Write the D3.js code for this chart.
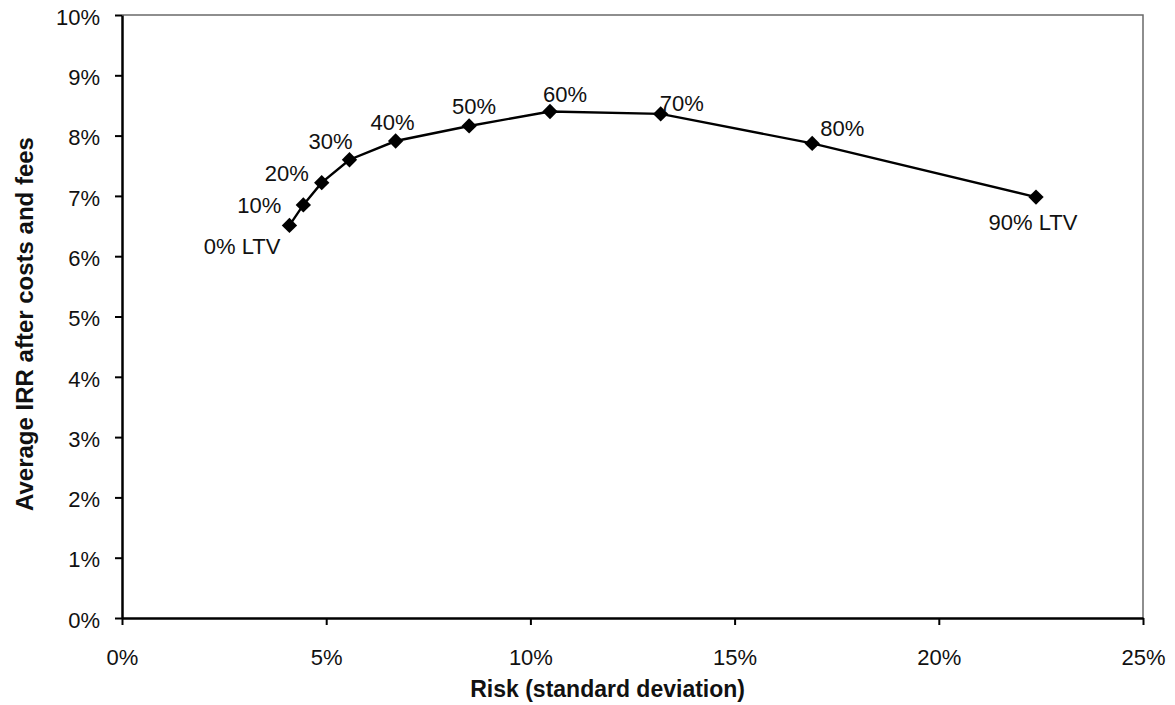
<!DOCTYPE html>
<html>
<head>
<meta charset="utf-8">
<script src="https://cdn.jsdelivr.net/npm/d3@7"></script>
<style>
  html, body { margin: 0; padding: 0; background: #fff; }
  svg { display: block; font-family: "Liberation Sans", Arial, Helvetica, sans-serif; }
</style>
</head>
<body>
<svg id="chart" width="1175" height="705"></svg>
<script>
// Risk/return trade-off by loan-to-value ratio
const ltvLabels = ["0% LTV", "10%", "20%", "30%", "40%", "50%", "60%", "70%", "80%", "90% LTV"];
const riskValues = [4.10, 4.44, 4.89, 5.57, 6.70, 8.50, 10.48, 13.19, 16.90, 22.38];
const irrValues  = [6.51, 6.85, 7.22, 7.60, 7.91, 8.16, 8.40, 8.36, 7.87, 6.98];

const xTicks = [0, 5, 10, 15, 20, 25];
const yTicks = [0, 1, 2, 3, 4, 5, 6, 7, 8, 9, 10];

// label placement relative to each marker (anchor, dx, dy in px)
const labelLayout = {
  "0% LTV":  ["end", -9, 29],
  "10%":     ["end", -22, 8],
  "20%":     ["end", -13, -2],
  "30%":     ["end", 3, -11],
  "40%":     ["middle", -3, -11],
  "50%":     ["middle", 5, -12],
  "60%":     ["start", -7, -9],
  "70%":     ["start", -1, -3],
  "80%":     ["start", 8, -7],
  "90% LTV": ["middle", -3, 33]
};

const points = ltvLabels.map((label, i) => ({ label, risk: riskValues[i], irr: irrValues[i] }));

const svg = d3.select("#chart");
const frame = { left: 122, right: 1143, top: 15, bottom: 618 };

const x = d3.scaleLinear().domain([0, 25]).range([frame.left, frame.right]);
const y = d3.scaleLinear().domain([0, 10]).range([frame.bottom, frame.top]);

// plot frame: thin grey top/right border
svg.append("path")
  .attr("d", `M${x(0)},${y(10)} H${x(25)} V${y(0)}`)
  .attr("fill", "none")
  .attr("stroke", "#6a6a6a")
  .attr("stroke-width", 1.5);

// x axis
const xAxis = svg.append("g")
  .attr("transform", `translate(0,${y(0)})`)
  .call(d3.axisBottom(x).tickValues(xTicks).tickFormat(d => d + "%")
    .tickSize(7).tickPadding(24).tickSizeOuter(0));
xAxis.select(".domain").attr("stroke", "#000").attr("stroke-width", 2.5);
xAxis.selectAll(".tick line").attr("stroke", "#000").attr("stroke-width", 2);
xAxis.selectAll(".tick text")
  .attr("font-size", 22).attr("fill", "#111")
  .attr("font-family", "Liberation Sans, Arial, sans-serif");

// y axis
const yAxis = svg.append("g")
  .attr("transform", `translate(${x(0)},0)`)
  .call(d3.axisLeft(y).tickValues(yTicks).tickFormat(d => d + "%")
    .tickSize(7).tickPadding(15).tickSizeOuter(0));
yAxis.select(".domain").attr("stroke", "#000").attr("stroke-width", 2.5);
yAxis.selectAll(".tick line").attr("stroke", "#000").attr("stroke-width", 2);
yAxis.selectAll(".tick text")
  .attr("font-size", 22).attr("fill", "#111").attr("dy", "0.42em")
  .attr("font-family", "Liberation Sans, Arial, sans-serif");

// connecting line
const line = d3.line().x(d => x(d.risk)).y(d => y(d.irr));
svg.append("path")
  .datum(points)
  .attr("d", line)
  .attr("fill", "none")
  .attr("stroke", "#000")
  .attr("stroke-width", 2.4);

// diamond markers
const diamond = d3.symbol().type(d3.symbolDiamond2).size(150);
svg.append("g").selectAll("path")
  .data(points)
  .join("path")
  .attr("d", diamond)
  .attr("transform", d => `translate(${x(d.risk)},${y(d.irr)})`)
  .attr("fill", "#000");

// point labels
svg.append("g").selectAll("text")
  .data(points)
  .join("text")
  .attr("x", d => x(d.risk) + labelLayout[d.label][1])
  .attr("y", d => y(d.irr) + labelLayout[d.label][2])
  .attr("text-anchor", d => labelLayout[d.label][0])
  .attr("font-size", 22)
  .attr("fill", "#111")
  .text(d => d.label);

// axis titles
svg.append("text")
  .attr("x", 745)
  .attr("y", 697)
  .attr("text-anchor", "end")
  .attr("font-size", 23)
  .attr("font-weight", "bold")
  .attr("fill", "#111")
  .text("Risk (standard deviation)");

svg.append("text")
  .attr("transform", "translate(33,324) rotate(-90)")
  .attr("text-anchor", "middle")
  .attr("font-size", 24)
  .attr("font-weight", "bold")
  .attr("fill", "#111")
  .text("Average IRR after costs and fees");
</script>
</body>
</html>
